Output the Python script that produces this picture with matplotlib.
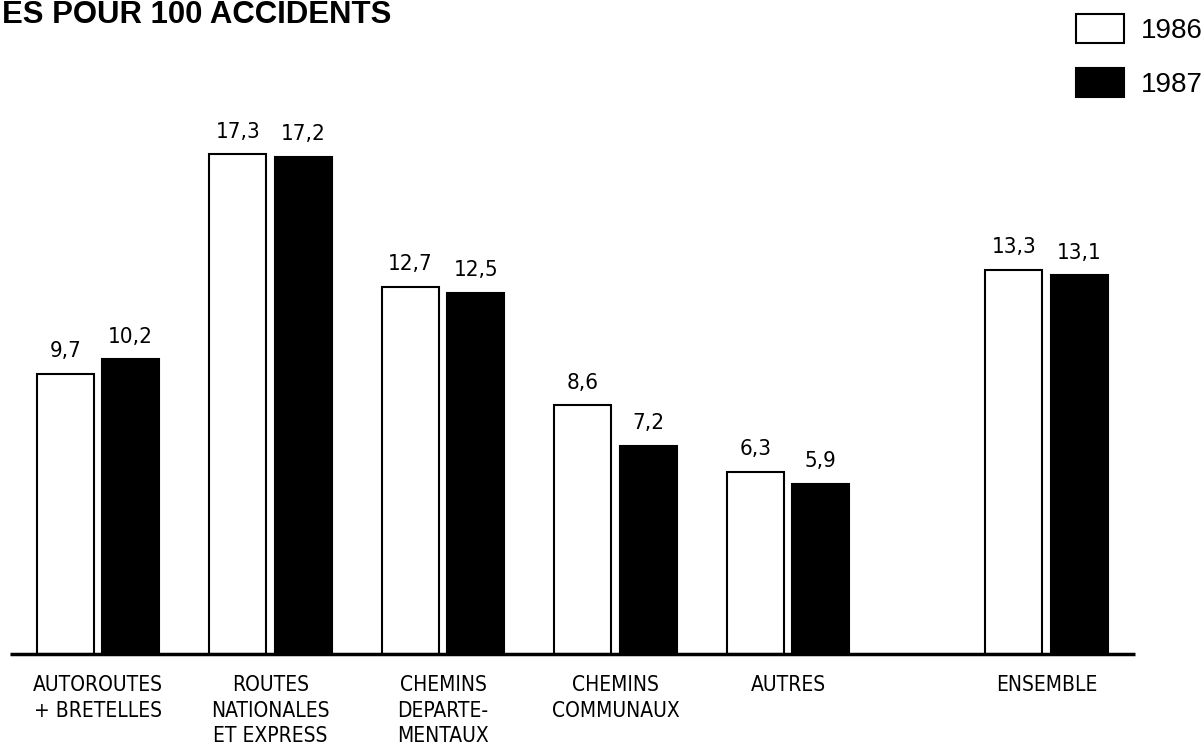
import numpy as np
import matplotlib.pyplot as plt

categories = ['AUTOROUTES\n+ BRETELLES', 'ROUTES\nNATIONALES\nET EXPRESS',
              'CHEMINS\nDEPARTE-\nMENTAUX', 'CHEMINS\nCOMMUNAUX', 'AUTRES', 'ENSEMBLE']
positions = [0, 1, 2, 3, 4, 5.5]
vals_1986 = [9.7, 17.3, 12.7, 8.6, 6.3, 13.3]
vals_1987 = [10.2, 17.2, 12.5, 7.2, 5.9, 13.1]
years = ['1986', '1987']
title = 'ES POUR 100 ACCIDENTS'

narrow = ['DejaVu Sans']
plain = ['Liberation Sans', 'DejaVu Sans']

fig = plt.figure(figsize=(12.04, 7.5), dpi=100)
ax = fig.add_axes([0, 0, 1, 1])
ax.set_axis_off()

x = np.array(positions)
w = 0.33
off = 0.19
b1 = ax.bar(x - off, vals_1986, w, color='white', edgecolor='black', linewidth=1.5, label=years[0])
b2 = ax.bar(x + off, vals_1987, w, color='black', edgecolor='black', linewidth=1.5, label=years[1])

# baseline
ax.plot([-0.51, 6.01], [0, 0], color='black', linewidth=2.5, solid_capstyle='butt')

for bars, vals in [(b1, vals_1986), (b2, vals_1987)]:
    for r, v in zip(bars, vals):
        ax.annotate(('%.1f' % v).replace('.', ','), (r.get_x() + r.get_width() / 2, v),
                    xytext=(0, 9), textcoords='offset points', ha='center', va='bottom',
                    fontsize=16, family=narrow, stretch='condensed')

for p, c in zip(positions, categories):
    ax.text(p, -0.73, c, ha='center', va='top', fontsize=15, family=narrow,
            stretch='condensed', linespacing=1.34)

ax.set_xlim(-0.568, 6.412)
ax.set_ylim(-3.32, 22.63)

fig.text(2 / 1204, 1 - 15 / 750, title, ha='left', va='center', fontsize=22.4,
         fontweight='bold', family=plain)

ax.legend(handles=[b1, b2], loc='upper left', bbox_to_anchor=(1076 / 1204, 1 - 14 / 750),
          bbox_transform=fig.transFigure, frameon=False, prop={'family': plain, 'size': 20},
          handlelength=1.72, handleheight=1.25, labelspacing=0.85, handletextpad=0.6,
          borderpad=0, borderaxespad=0)

fig.savefig('out.png', dpi=100)
